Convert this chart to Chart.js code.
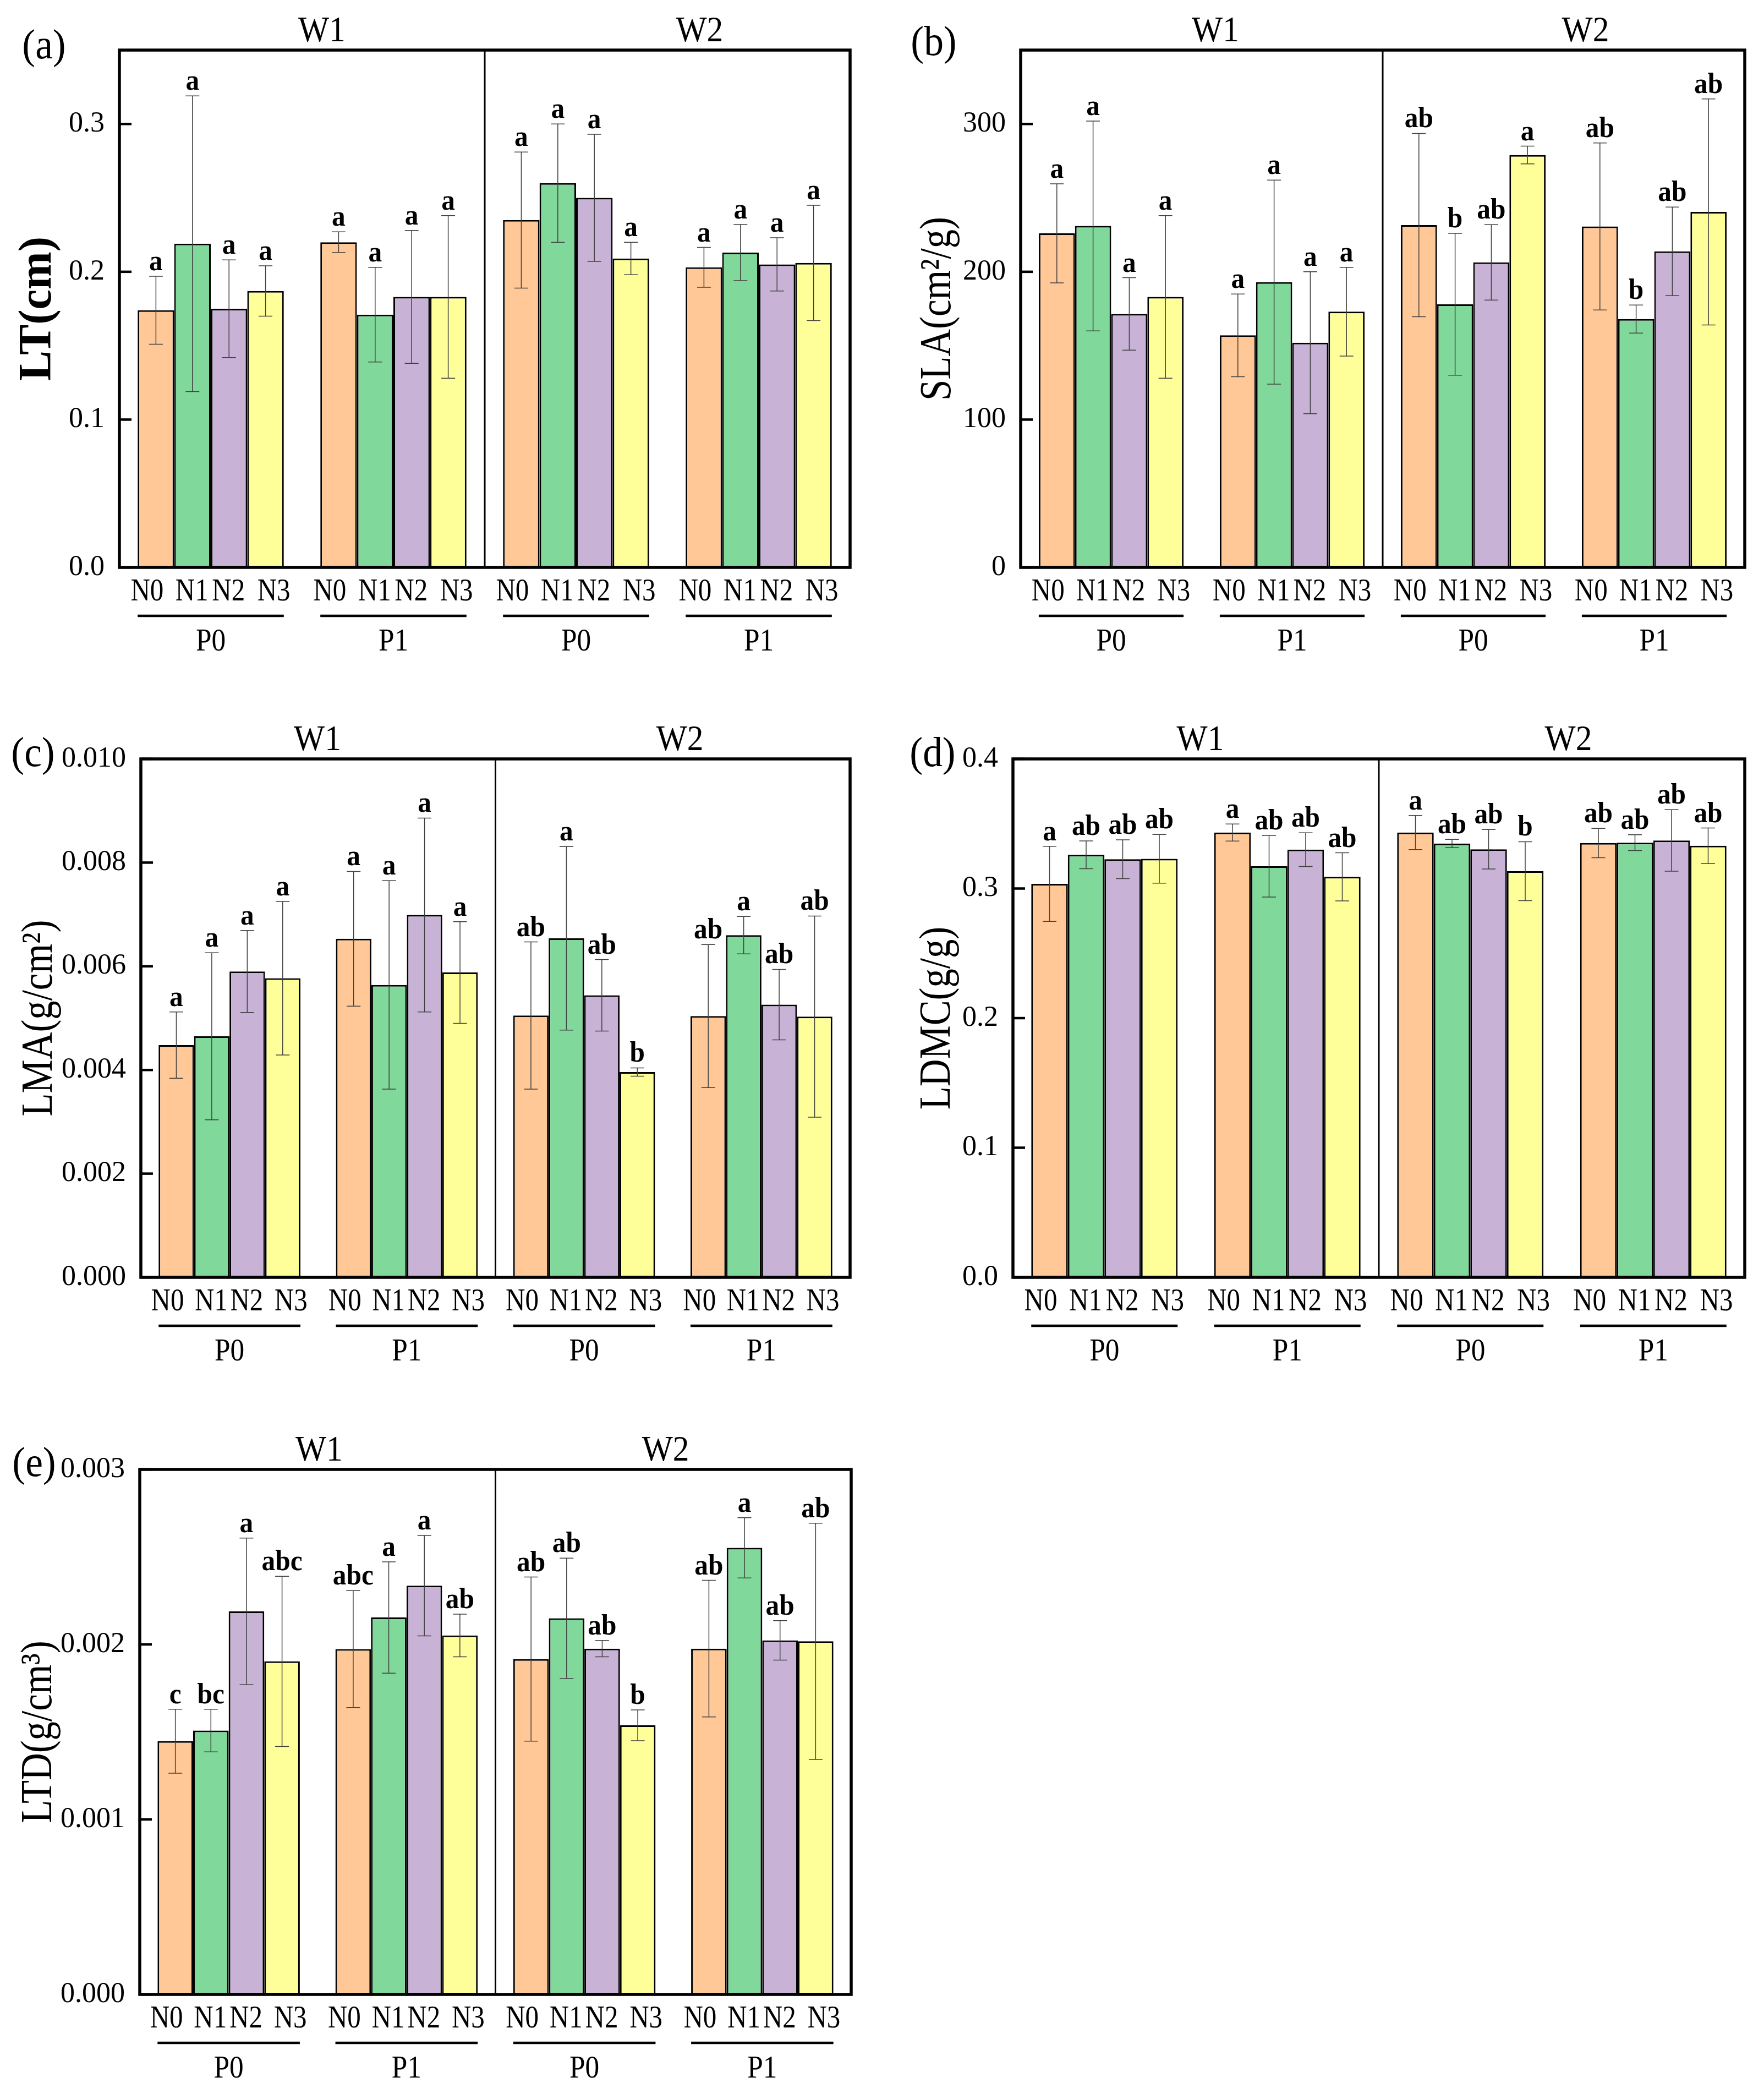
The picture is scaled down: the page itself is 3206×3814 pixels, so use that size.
<!DOCTYPE html>
<html><head><meta charset="utf-8">
<script src="https://cdn.jsdelivr.net/npm/chart.js@4.4.0/dist/chart.umd.min.js"></script>
<style>
html,body{margin:0;padding:0;background:#fff;}
body{width:3206px;height:3814px;position:relative;overflow:hidden;}
canvas{position:absolute;}
</style></head><body>
<canvas id="pa"></canvas><canvas id="pb"></canvas><canvas id="pc"></canvas><canvas id="pd"></canvas><canvas id="pe"></canvas>
<script>
// ---------- categories ----------
const groupLabels = ['W1-P0','W1-P1','W2-P0','W2-P1'];
const pLabels = ['P0','P1','P0','P1'];
const wLabels = ['W1','W2'];
const nLabels = ['N0','N1','N2','N3'];

// ---------- (a) LT ----------
const ltMean = [[0.174,0.220,0.235,0.203],[0.219,0.171,0.260,0.213],[0.175,0.183,0.250,0.205],[0.187,0.183,0.209,0.206]];
const ltSd   = [[0.023,0.007,0.046,0.0135],[0.100,0.032,0.040,0.019],[0.033,0.045,0.043,0.018],[0.017,0.055,0.011,0.039]];
const ltLet  = [['a','a','a','a'],['a','a','a','a'],['a','a','a','a'],['a','a','a','a']];
const ltTicks = [0,0.1,0.2,0.3];
const ltTickLabels = ['0.0','0.1','0.2','0.3'];

// ---------- (b) SLA ----------
const slaMean = [[226,157,231.6,230.7],[231,193,178,168],[171.5,152,206.4,213.8],[183,173,279,240.5]];
const slaSd   = [[33.5,28,62,56.5],[71,69,48,9.5],[24.5,48,25.5,30],[55,30,6,76.5]];
const slaLet  = [['a','a','ab','ab'],['a','a','b','b'],['a','a','ab','ab'],['a','a','a','ab']];
const slaTicks = [0,100,200,300];
const slaTickLabels = ['0','100','200','300'];

// ---------- (c) LMA ----------
const lmaMean = [[0.00448,0.00653,0.00505,0.00504],[0.00465,0.00564,0.00654,0.00660],[0.00590,0.00699,0.00544,0.00526],[0.00577,0.00588,0.00396,0.00503]];
const lmaSd   = [[0.00064,0.00130,0.00142,0.00138],[0.00161,0.00201,0.00177,0.00036],[0.00079,0.00187,0.00069,0.00068],[0.00148,0.00098,0.00008,0.00194]];
const lmaLet  = [['a','a','ab','ab'],['a','a','a','a'],['a','a','ab','ab'],['a','a','b','ab']];
const lmaTicks = [0,0.002,0.004,0.006,0.008,0.010];
const lmaTickLabels = ['0.000','0.002','0.004','0.006','0.008','0.010'];

// ---------- (d) LDMC ----------
const ldmcMean = [[0.3036,0.3432,0.3432,0.3351],[0.326,0.3172,0.3347,0.3354],[0.3226,0.330,0.3303,0.3371],[0.3229,0.309,0.3134,0.333]];
const ldmcSd   = [[0.029,0.0066,0.0132,0.0113],[0.0107,0.0238,0.0032,0.0061],[0.015,0.013,0.0152,0.0237],[0.0188,0.0186,0.0227,0.0137]];
const ldmcLet  = [['a','a','a','ab'],['ab','ab','ab','ab'],['ab','ab','ab','ab'],['ab','ab','b','ab']];
const ldmcTicks = [0,0.1,0.2,0.3,0.4];
const ldmcTickLabels = ['0.0','0.1','0.2','0.3','0.4'];

// ---------- (e) LTD ----------
const ltdMean = [[0.001447,0.001973,0.001916,0.001976],[0.001508,0.002154,0.002149,0.002552],[0.002189,0.002336,0.001976,0.002023],[0.001903,0.002051,0.001538,0.002018]];
const ltdSd   = [[0.000183,0.000334,0.000469,0.00039],[0.000122,0.000318,0.000344,0.000172],[0.000419,0.000287,0.000047,0.000113],[0.000486,0.000122,0.000088,0.000675]];
const ltdLet  = [['c','abc','ab','ab'],['bc','a','ab','a'],['a','a','ab','ab'],['abc','ab','b','ab']];
const ltdTicks = [0,0.001,0.002,0.003];
const ltdTickLabels = ['0.000','0.001','0.002','0.003'];

// ---------- styles ----------
const fills = ['#FFC896','#80D99B','#C8B3D7','#FFFF99'];
const FONT = "'Liberation Serif','Times New Roman',serif";
const nLabelShift = [-16, -1, -1, 15];

const panels = [
  {id:'pa', x:0, y:0, w:1600, h:1260, area:{l:217,r:1545,t:91,b:1031}, tag:'(a)', tagPos:[80,86],
   title:'LT(cm)', titleFont:'bold 84px ', titleSx:0.98, titleX:70, wFrac:[0.277,0.794], max:0.35,
   mean:ltMean, sd:ltSd, lett:ltLet, ticks:ltTicks, tickLabels:ltTickLabels},
  {id:'pb', x:1600, y:0, w:1606, h:1260, area:{l:255,r:1571,t:91,b:1031}, tag:'(b)', tagPos:[97,80],
   title:'SLA(cm\u00B2/g)', titleFont:'80px ', titleSx:0.86, titleX:106, wFrac:[0.269,0.78], max:350,
   mean:slaMean, sd:slaSd, lett:slaLet, ticks:slaTicks, tickLabels:slaTickLabels},
  {id:'pc', x:0, y:1290, w:1600, h:1260, area:{l:256,r:1545,t:89,b:1031}, tag:'(c)', tagPos:[60,82],
   title:'LMA(g/cm\u00B2)', titleFont:'80px ', titleSx:0.86, titleX:73, wFrac:[0.249,0.76], max:0.010,
   mean:lmaMean, sd:lmaSd, lett:lmaLet, ticks:lmaTicks, tickLabels:lmaTickLabels},
  {id:'pd', x:1600, y:1290, w:1606, h:1260, area:{l:241,r:1571,t:89,b:1031}, tag:'(d)', tagPos:[95,82],
   title:'LDMC(g/g)', titleFont:'80px ', titleSx:0.86, titleX:105, wFrac:[0.256,0.759], max:0.4,
   mean:ldmcMean, sd:ldmcSd, lett:ldmcLet, ticks:ldmcTicks, tickLabels:ldmcTickLabels},
  {id:'pe', x:0, y:2570, w:1600, h:1244, area:{l:254,r:1547,t:100,b:1054}, tag:'(e)', tagPos:[62,92],
   title:'LTD(g/cm\u00B3)', titleFont:'80px ', titleSx:0.86, titleX:72, wFrac:[0.252,0.739], max:0.003,
   mean:ltdMean, sd:ltdSd, lett:ltdLet, ticks:ltdTicks, tickLabels:ltdTickLabels}
];

function squeezeText(ctx, txt, x, y, font, sx){
  ctx.save();
  ctx.translate(x, y);
  ctx.scale(sx, 1);
  ctx.font = font;
  ctx.fillText(txt, 0, 0);
  ctx.restore();
}

function makePlugin(p){
  return {
    id:'deco_'+p.id,
    afterDatasetsDraw(chart){
      const ctx = chart.ctx, ys = chart.scales.y;
      ctx.save();
      chart.data.datasets.forEach((ds, si) => {
        const meta = chart.getDatasetMeta(si);
        meta.data.forEach((el, gi) => {
          const m = p.mean[si][gi], s = p.sd[si][gi];
          const yT = ys.getPixelForValue(m + s), yB = ys.getPixelForValue(m - s);
          ctx.strokeStyle = '#404040'; ctx.lineWidth = 1.5;
          ctx.beginPath();
          ctx.moveTo(el.x, yT); ctx.lineTo(el.x, yB);
          ctx.moveTo(el.x - 12.5, yT); ctx.lineTo(el.x + 12.5, yT);
          ctx.moveTo(el.x - 12.5, yB); ctx.lineTo(el.x + 12.5, yB);
          ctx.stroke();
          ctx.fillStyle = '#000';
          ctx.textAlign = 'center'; ctx.textBaseline = 'alphabetic';
          squeezeText(ctx, p.lett[si][gi], el.x, yT - 11, 'bold 52px ' + FONT, 0.95);
        });
      });
      ctx.restore();
    },
    afterDraw(chart){
      const ctx = chart.ctx, a = chart.chartArea, xs = chart.scales.x, ys = chart.scales.y;
      ctx.save();
      // inward tick marks
      ctx.strokeStyle = '#000'; ctx.lineWidth = 4.5;
      p.ticks.forEach(v => {
        const yy = ys.getPixelForValue(v);
        ctx.beginPath(); ctx.moveTo(a.left, yy); ctx.lineTo(a.left + 22, yy); ctx.stroke();
      });
      // frame
      ctx.lineWidth = 5.5;
      ctx.strokeRect(a.left, a.top, a.right - a.left, a.bottom - a.top);
      // divider between W1 and W2
      const xd = (xs.getPixelForValue(1) + xs.getPixelForValue(2)) / 2;
      ctx.lineWidth = 3;
      ctx.beginPath(); ctx.moveTo(xd, a.top); ctx.lineTo(xd, a.bottom); ctx.stroke();
      ctx.fillStyle = '#000';
      ctx.textAlign = 'center'; ctx.textBaseline = 'middle';
      // N labels, underline, P labels
      const m0 = chart.getDatasetMeta(0), m3 = chart.getDatasetMeta(3);
      for (let g = 0; g < groupLabels.length; g++) {
        for (let s = 0; s < nLabels.length; s++) {
          const el = chart.getDatasetMeta(s).data[g];
          squeezeText(ctx, nLabels[s], el.x + nLabelShift[s], a.bottom + 45, '57px ' + FONT, 0.86);
        }
        const e0 = m0.data[g], e3 = m3.data[g];
        const x1 = e0.x - e0.width / 2, x2 = e3.x + e3.width / 2;
        ctx.lineWidth = 4.5;
        ctx.beginPath(); ctx.moveTo(x1, a.bottom + 88); ctx.lineTo(x2, a.bottom + 88); ctx.stroke();
        squeezeText(ctx, pLabels[g], (x1 + x2) / 2, a.bottom + 136, '57px ' + FONT, 0.9);
      }
      // W headers
      wLabels.forEach((w, i) => {
        squeezeText(ctx, w, a.left + p.wFrac[i] * (a.right - a.left), a.top - 33, '66px ' + FONT, 0.9);
      });
      // panel tag
      squeezeText(ctx, p.tag, p.tagPos[0], p.tagPos[1], '76px ' + FONT, 0.94);
      // y title
      ctx.save();
      ctx.translate(p.titleX, (a.top + a.bottom) / 2);
      ctx.rotate(-Math.PI / 2);
      ctx.scale(p.titleSx, 1);
      ctx.font = p.titleFont + FONT;
      ctx.fillText(p.title, 0, 0);
      ctx.restore();
      ctx.restore();
    }
  };
}

panels.forEach(p => {
  const cv = document.getElementById(p.id);
  cv.width = p.w; cv.height = p.h;
  cv.style.left = p.x + 'px'; cv.style.top = p.y + 'px';
  cv.style.width = p.w + 'px'; cv.style.height = p.h + 'px';
  new Chart(cv.getContext('2d'), {
    type: 'bar',
    data: {
      labels: groupLabels,
      datasets: nLabels.map((n, i) => ({
        label: n, data: p.mean[i], backgroundColor: fills[i],
        borderColor: '#000', borderWidth: 3, borderSkipped: false,
        barPercentage: 1.0, categoryPercentage: 0.8
      }))
    },
    options: {
      responsive: false, animation: false, devicePixelRatio: 1,
      layout: { padding: { left: 0, top: p.area.t, right: p.w - p.area.r, bottom: p.h - p.area.b } },
      plugins: { legend: { display: false }, tooltip: { enabled: false } },
      scales: {
        x: { display: false, offset: true },
        y: {
          min: 0, max: p.max,
          afterFit: s => { s.width = p.area.l; },
          afterBuildTicks: s => { s.ticks = p.ticks.map(v => ({ value: v })); },
          ticks: { callback: (v, i) => p.tickLabels[i], font: { family: FONT, size: 52 }, color: '#000', padding: 27 },
          grid: { display: false, drawOnChartArea: false, drawTicks: false },
          border: { display: false }
        }
      }
    },
    plugins: [makePlugin(p)]
  });
});
</script>
</body></html>
